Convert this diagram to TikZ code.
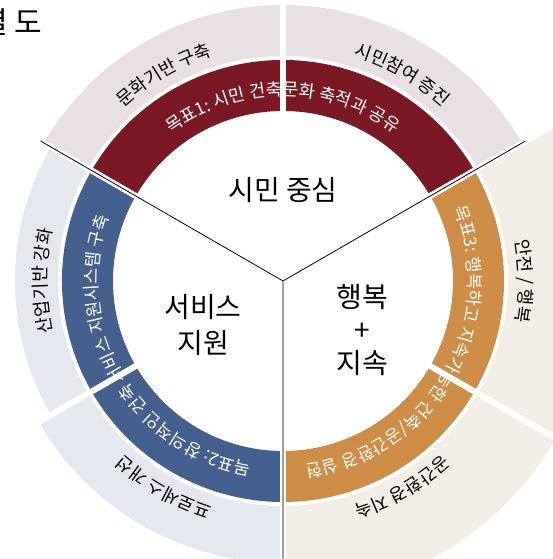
\documentclass[tikz,border=0pt]{standalone}
\usepackage{fontspec}
\setmainfont{Noto Sans CJK KR}
\usepackage{tikz}
\usetikzlibrary{decorations.text}
\usepackage{xcolor}
\definecolor{goalred}{RGB}{122,25,36}
\definecolor{goalblue}{RGB}{67,96,143}
\definecolor{goalorange}{RGB}{205,141,70}
\definecolor{palered}{RGB}{233,224,227}
\definecolor{paleblue}{RGB}{228,231,237}
\definecolor{palebeige}{RGB}{242,237,229}
\newcommand{\ringseg}[5]{\fill[#1] (#2:#5) arc[start angle=#2, end angle=#3, radius=#5]
    -- (#3:#4) arc[start angle=#3, end angle=#2, radius=#4] -- cycle;}

\begin{document}
\begin{tikzpicture}[
    goal/.style={decorate, decoration={text along path, text align=center,
        text={|\fontsize{17.5pt}{17.5pt}\selectfont\color{white}|#1}}},
    area/.style={decorate, decoration={text along path, text align=center,
        text={|\fontsize{18pt}{18pt}\selectfont|#1}}},
    hub/.style={font=\fontsize{28pt}{35pt}\selectfont, align=center},
    gap/.style={white, line width=6pt},
    spoke/.style={black, line width=0.8pt}
]
\useasboundingbox (0,0) rectangle (553pt,-559pt);
\clip (0,0) rectangle (553pt,-559pt);
\node[anchor=east, inner sep=0pt, font=\fontsize{30pt}{30pt}\selectfont] (title) at (42pt,-22pt) {배열\hspace{6pt}도};
\begin{scope}[shift={(283pt,-281pt)}]
\coordinate (c) at (0,0);
\ringseg{palered}{30}{90}{225pt}{276pt}
\ringseg{palered}{90}{150}{225pt}{276pt}
\ringseg{paleblue}{150}{210}{225pt}{268pt}
\ringseg{paleblue}{210}{270}{225pt}{282pt}
\ringseg{palebeige}{270}{330}{225pt}{315pt}
\ringseg{palebeige}{330}{390}{225pt}{315pt}
\ringseg{goalred}{30}{150}{170pt}{221pt}
\ringseg{goalblue}{150}{270}{170pt}{221pt}
\ringseg{goalorange}{270}{390}{170pt}{221pt}
\foreach \a in {30,90,...,330} \draw[gap] (\a:160pt) -- (\a:340pt);
\draw[spoke] (c) -- (30:280pt);
\draw[spoke] (c) -- (150:280pt);
\draw[gray!75, line width=1.5pt] (c) -- (270:340pt);
\path[goal={목표1: 시민 건축문화 축적과 공유}] (150:185pt) arc[start angle=150, end angle=30, radius=185pt];
\path[goal={목표2: 창의적인 건축 서비스 지원시스템 구축}] (270:185pt) arc[start angle=270, end angle=150, radius=185pt];
\path[goal={목표3: 행복하고 지속가능한 건축/공간환경 실현}] (30:185pt) arc[start angle=30, end angle=-90, radius=185pt];
\path[area={문화기반 구축}] (150:236pt) arc[start angle=150, end angle=90, radius=236pt];
\path[area={시민참여 증진}] (90:236pt) arc[start angle=90, end angle=30, radius=236pt];
\path[area={산업기반 강화}] (210:236pt) arc[start angle=210, end angle=150, radius=236pt];
\path[area={프로세스 개선}] (270:236pt) arc[start angle=270, end angle=210, radius=236pt];
\path[area={공간환경 지속}] (330:236pt) arc[start angle=330, end angle=270, radius=236pt];
\path[area={안전 / 행복}] (30:236pt) arc[start angle=30, end angle=-30, radius=236pt];
\node[hub] (civic) at (0,91pt) {시민 중심};
\node[hub, font=\fontsize{28pt}{36pt}\selectfont] (service) at (-80pt,-44pt) {서비스\\지원};
\node[hub, font=\fontsize{28pt}{33pt}\selectfont] (happy) at (79pt,-49pt) {행복\\+\\지속};
\end{scope}
\end{tikzpicture}
\end{document}
